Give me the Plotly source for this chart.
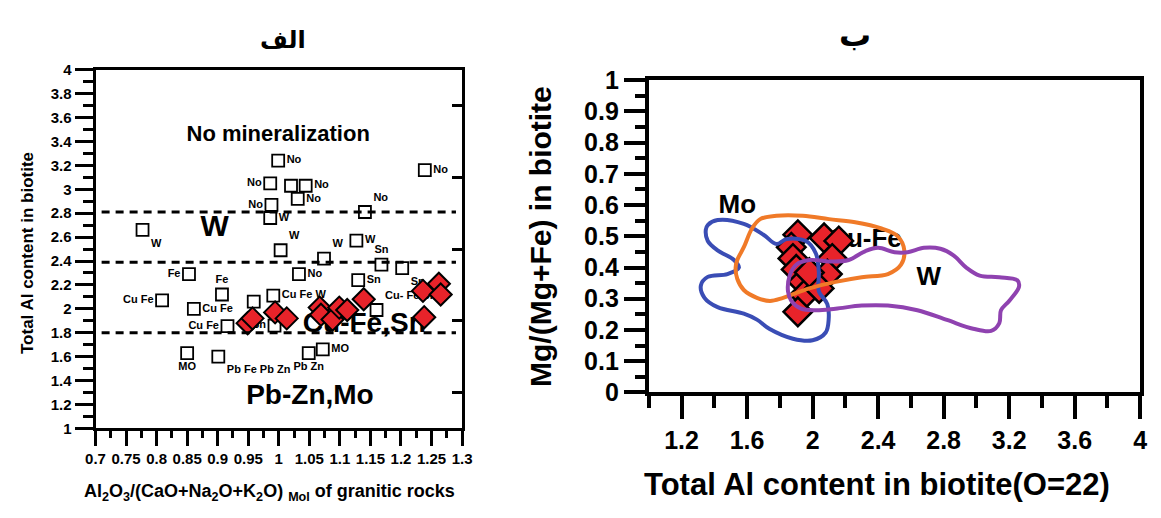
import plotly.graph_objects as go

W, H = 1161, 518
FONT = "Liberation Sans, Arial, sans-serif"

# ---------------- Panel الف (left) ----------------
a_xticks = [0.7, 0.75, 0.8, 0.85, 0.9, 0.95, 1.0, 1.05, 1.1, 1.15, 1.2, 1.25, 1.3]
a_xticktext = ["0.7", "0.75", "0.8", "0.85", "0.9", "0.95", "1", "1.05", "1.1", "1.15", "1.2", "1.25", "1.3"]
a_xminor = [0.725, 0.775, 0.825, 0.875, 0.925, 0.975, 1.025, 1.075, 1.125, 1.175, 1.225, 1.275]
a_yticks = [1, 1.2, 1.4, 1.6, 1.8, 2, 2.2, 2.4, 2.6, 2.8, 3, 3.2, 3.4, 3.6, 3.8, 4]
a_yticktext = ["1", "1.2", "1.4", "1.6", "1.8", "2", "2.2", "2.4", "2.6", "2.8", "3", "3.2", "3.4", "3.6", "3.8", "4"]
a_yminor = [1.1, 1.3, 1.5, 1.7, 1.9, 2.1, 2.3, 2.5, 2.7, 2.9, 3.1, 3.3, 3.5, 3.7, 3.9]
a_yright = [1.3, 1.9, 2.5, 3.1, 3.7]

sq_x = [0.999, 1.239, 0.986, 1.020, 1.044, 1.031, 0.988, 0.986, 1.141, 0.777,
        1.003, 1.074, 1.127, 1.168, 1.202, 1.033, 0.853, 1.130, 0.907, 0.809,
        0.991, 0.959, 0.861, 0.916, 0.993, 1.160, 0.850, 0.901, 1.049, 1.072]
sq_y = [3.24, 3.16, 3.05, 3.03, 3.03, 2.92, 2.87, 2.76, 2.81, 2.66,
        2.49, 2.42, 2.57, 2.37, 2.34, 2.29, 2.29, 2.24, 2.12, 2.07,
        2.11, 2.06, 2.00, 1.855, 1.86, 1.99, 1.63, 1.60, 1.63, 1.66]
sq_lbl = ["No", "No", "No", "", "No", "No", "No", "W", "No", "W",
          "W", "W", "W", "Sn", "Sn", "No", "Fe", "Sn", "Fe", "Cu Fe",
          "Cu Fe W", "", "Cu Fe", "Cu Fe", "Sn", "Cu- Fe Sn", "MO", "Pb Fe Pb Zn", "Pb Zn", "MO"]
sq_pos = ["middle right", "middle right", "middle left", "middle right", "middle right",
          "middle right", "middle left", "middle right", "top right", "bottom right",
          "top right", "top right", "middle right", "top center", "bottom right",
          "middle right", "middle left", "middle right", "top center", "middle left",
          "middle right", "middle right", "middle right", "middle left", "middle left",
          "top right", "bottom center", "bottom right", "bottom center", "middle right"]

dia_a_x = [0.949, 0.957, 0.994, 1.013, 1.067, 1.069, 1.088, 1.099, 1.112, 1.139, 1.236, 1.262, 1.265, 1.238]
dia_a_y = [1.88, 1.92, 1.97, 1.92, 2.01, 1.95, 1.91, 2.01, 1.99, 2.08, 2.15, 2.21, 2.12, 1.93]

boundary_y = [2.81, 2.39, 1.80]
boundary_x = [0.71, 1.29]

zone_names = ["No mineralization", "W", "Cu-Fe,Sn", "Pb-Zn,Mo"]
zone_x = [0.999, 0.895, 1.140, 1.051]
zone_y = [3.45, 2.67, 1.865, 1.26]
zone_size = [22, 30, 28, 28]

# ---------------- Panel ب (right) ----------------
b_xticks = [1.2, 1.6, 2.0, 2.4, 2.8, 3.2, 3.6, 4.0]
b_xticktext = ["1.2", "1.6", "2", "2.4", "2.8", "3.2", "3.6", "4"]
b_xminor = [1.0, 1.4, 1.8, 2.2, 2.6, 3.0, 3.4, 3.8]
b_yticks = [0, 0.1, 0.2, 0.3, 0.4, 0.5, 0.6, 0.7, 0.8, 0.9, 1.0]
b_yticktext = ["0", "0.1", "0.2", "0.3", "0.4", "0.5", "0.6", "0.7", "0.8", "0.9", "1"]
b_yminor = [0.05, 0.15, 0.25, 0.35, 0.45, 0.55, 0.65, 0.75, 0.85, 0.95]

mo_x = [1.360, 1.420, 1.580, 1.700, 1.780, 1.840, 1.960, 2.020, 2.038, 2.038, 2.090, 2.098, 2.080,
        2.000, 1.880, 1.738, 1.660, 1.580, 1.420, 1.340, 1.318, 1.360, 1.480, 1.550, 1.520,
        1.420, 1.360, 1.348]
mo_y = [0.536, 0.552, 0.540, 0.505, 0.475, 0.491, 0.485, 0.445, 0.385, 0.324, 0.283, 0.233, 0.192,
        0.167, 0.172, 0.203, 0.233, 0.252, 0.273, 0.303, 0.343, 0.370, 0.379, 0.400, 0.424,
        0.455, 0.485, 0.521]

cufe_x = [1.540, 1.580, 1.630, 1.680, 1.780, 1.940, 2.100, 2.260, 2.420, 2.520, 2.560, 2.540,
          2.460, 2.300, 2.140, 1.980, 1.820, 1.740, 1.660, 1.580, 1.540, 1.530]
cufe_y = [0.424, 0.465, 0.525, 0.555, 0.566, 0.566, 0.555, 0.545, 0.525, 0.500, 0.455, 0.409,
          0.379, 0.369, 0.354, 0.333, 0.303, 0.293, 0.303, 0.328, 0.364, 0.399]

w_x = [1.850, 1.860, 1.900, 1.980, 2.120, 2.220, 2.320, 2.400, 2.500, 2.580, 2.680, 2.780,
       2.860, 2.940, 3.020, 3.140, 3.250, 3.260, 3.200, 3.150, 3.140, 3.090, 2.980, 2.820,
       2.640, 2.460, 2.300, 2.140, 2.020, 1.930, 1.870]
w_y = [0.323, 0.374, 0.409, 0.424, 0.419, 0.424, 0.452, 0.463, 0.449, 0.449, 0.463, 0.460,
       0.439, 0.399, 0.374, 0.369, 0.359, 0.338, 0.293, 0.263, 0.222, 0.197, 0.204, 0.232,
       0.263, 0.278, 0.278, 0.268, 0.263, 0.268, 0.293]

dia_b_x = [1.910, 1.870, 1.880, 1.900, 1.940, 1.950, 1.910, 2.070, 2.160, 2.120, 2.090, 2.040, 1.980]
dia_b_y = [0.505, 0.465, 0.429, 0.394, 0.354, 0.313, 0.258, 0.495, 0.485, 0.429, 0.379, 0.333, 0.384]

field_names = ["Mo", "Cu-Fe", "W"]
field_x = [1.54, 2.32, 2.71]
field_y = [0.596, 0.488, 0.366]

BLUE, ORANGE, PURPLE, RED = "#3a4db5", "#f07a28", "#8f42b0", "#e8232a"

fig = go.Figure()

# left panel
for by in boundary_y:
    fig.add_trace(go.Scatter(x=boundary_x, y=[by, by], mode="lines", xaxis="x", yaxis="y3",
                             line=dict(color="black", width=3, dash="8px,6px"),
                             hoverinfo="skip", showlegend=False))
fig.add_trace(go.Scatter(x=zone_x, y=zone_y, text=zone_names, mode="text", xaxis="x", yaxis="y",
                         textfont=dict(family=FONT, size=zone_size, color="black", weight="bold"),
                         showlegend=False))
fig.add_trace(go.Scatter(x=sq_x, y=sq_y, mode="markers", xaxis="x", yaxis="y",
                         marker=dict(symbol="square", size=12, color="white",
                                     line=dict(color="black", width=1.8)),
                         showlegend=False))
lab_idx = [i for i, t in enumerate(sq_lbl) if t]
fig.add_trace(go.Scatter(x=[sq_x[i] for i in lab_idx], y=[sq_y[i] for i in lab_idx],
                         text=[sq_lbl[i] for i in lab_idx], textposition=[sq_pos[i] for i in lab_idx],
                         mode="markers+text", xaxis="x", yaxis="y",
                         marker=dict(symbol="square", size=12, color="rgba(0,0,0,0)",
                                     line=dict(color="rgba(0,0,0,0)", width=0)),
                         textfont=dict(family=FONT, size=11, color="black", weight="bold"),
                         showlegend=False))
fig.add_trace(go.Scatter(x=dia_a_x, y=dia_a_y, mode="markers", xaxis="x", yaxis="y",
                         marker=dict(symbol="diamond", size=17, color=RED,
                                     line=dict(color="black", width=2)),
                         showlegend=False))

# right panel
fig.add_trace(go.Scatter(x=field_x, y=field_y, text=field_names, mode="text", xaxis="x2", yaxis="y2",
                         textfont=dict(family=FONT, size=26, color="black", weight="bold"),
                         showlegend=False))
fig.add_trace(go.Scatter(x=dia_b_x, y=dia_b_y, mode="markers", xaxis="x2", yaxis="y2",
                         marker=dict(symbol="diamond", size=22, color=RED,
                                     line=dict(color="black", width=2.5)),
                         showlegend=False))
for px_, py_, col in [(mo_x, mo_y, BLUE), (cufe_x, cufe_y, ORANGE), (w_x, w_y, PURPLE)]:
    fig.add_trace(go.Scatter(x=px_ + [px_[0]], y=py_ + [py_[0]], mode="lines", xaxis="x2", yaxis="y2",
                             line=dict(color=col, width=4, shape="spline", smoothing=1.0),
                             hoverinfo="skip", showlegend=False))

tick_font_a = dict(family=FONT, size=15, color="black", weight="bold")
tick_font_b = dict(family=FONT, size=25, color="black", weight="bold")


def ann(text, x, y, size, family=FONT, angle=0):
    return dict(text=text, x=x / W, y=(H - y) / H, xref="paper", yref="paper", showarrow=False,
                xanchor="center", yanchor="middle", textangle=angle,
                font=dict(family=family, size=size, color="black", weight="bold"))


fig.update_layout(
    width=W, height=H, autosize=False,
    margin=dict(l=0, r=0, t=0, b=0),
    paper_bgcolor="white", plot_bgcolor="white",
    xaxis=dict(domain=[87 / W, 460 / W], range=[0.7, 1.3], anchor="y",
               tickmode="array", tickvals=a_xticks, ticktext=a_xticktext, tickangle=0,
               ticks="outside", ticklen=15, tickwidth=3, tickcolor="black",
               minor=dict(tickvals=a_xminor, ticks="outside", ticklen=7, tickwidth=3, tickcolor="black"),
               showline=True, linewidth=3, linecolor="black", mirror=True,
               showgrid=False, zeroline=False, tickfont=tick_font_a),
    yaxis=dict(domain=[(H - 438) / H, (H - 59) / H], range=[1, 4], anchor="x",
               tickmode="array", tickvals=a_yticks, ticktext=a_yticktext,
               ticks="outside", ticklen=18, tickwidth=3, tickcolor="black",
               minor=dict(tickvals=a_yminor, ticks="outside", ticklen=10, tickwidth=3, tickcolor="black"),
               showline=True, linewidth=3, linecolor="black", mirror=True,
               showgrid=False, zeroline=False, tickfont=tick_font_a),
    yaxis3=dict(overlaying="y", side="right", anchor="x", range=[1, 4],
                tickmode="array", tickvals=a_yright, ticks="inside", ticklen=10, tickwidth=3,
                tickcolor="black", showticklabels=False, showline=False, showgrid=False, zeroline=False),
    xaxis2=dict(domain=[650 / W, 1150 / W], range=[1, 4], anchor="y2",
                tickmode="array", tickvals=b_xticks, ticktext=b_xticktext, tickangle=0,
                ticks="outside", ticklen=23, tickwidth=4, tickcolor="black",
                minor=dict(tickvals=b_xminor, ticks="outside", ticklen=12, tickwidth=4, tickcolor="black"),
                showline=True, linewidth=4, linecolor="black", mirror=True,
                showgrid=False, zeroline=False, tickfont=tick_font_b),
    yaxis2=dict(domain=[(H - 400) / H, (H - 70) / H], range=[0, 1], anchor="x2",
                tickmode="array", tickvals=b_yticks, ticktext=b_yticktext,
                ticks="outside", ticklen=21, tickwidth=4, tickcolor="black",
                minor=dict(tickvals=b_yminor, ticks="outside", ticklen=10, tickwidth=4, tickcolor="black"),
                showline=True, linewidth=4, linecolor="black", mirror=True,
                showgrid=False, zeroline=False, tickfont=tick_font_b),
    annotations=[
        ann("الف", 278, 27, 24, family="DejaVu Sans"),
        ann("ب", 860, 22, 32, family="DejaVu Sans"),
        ann("Al<sub>2</sub>O<sub>3</sub>/(CaO+Na<sub>2</sub>O+K<sub>2</sub>O) <sub>Mol</sub> of granitic rocks",
            264, 506, 18),
        ann("Total Al content in biotite", 18, 253, 17, angle=-90),
        ann("Total Al content in biotite(O=22)", 882, 497, 31),
        ann("Mg/(Mg+Fe) in biotite", 540, 235, 30, angle=-90),
    ],
)

fig.write_html("out.html", config={"displayModeBar": False},
               post_script="document.body.style.margin='0px';")
